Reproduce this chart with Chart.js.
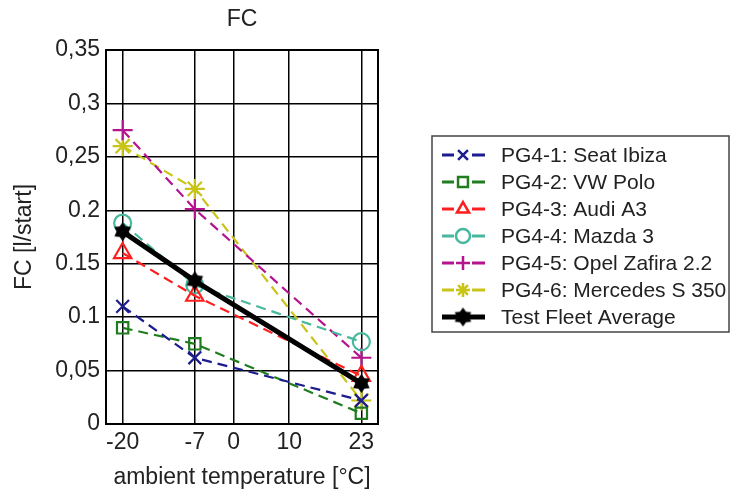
<!DOCTYPE html>
<html>
<head>
<meta charset="utf-8">
<script src="https://cdn.jsdelivr.net/npm/chart.js@4/dist/chart.umd.min.js"></script>
<style>
  html, body { margin: 0; padding: 0; background: #fff; }
  #chart { display: block; }
</style>
</head>
<body>
<canvas id="chart" width="731" height="491"></canvas>
<script>
// temperatures measured (x) and fuel consumption per start (y)
const temps = [-20, -7, 23];
const seatIbiza = [0.11, 0.062, 0.022];
const vwPolo = [0.09, 0.075, 0.01];
const audiA3 = [0.16, 0.12, 0.045];
const mazda3 = [0.188, 0.13, 0.077];
const opelZafira = [0.275, 0.201, 0.062];
const mercedes = [0.26, 0.22, 0.022];
const fleetAverage = [0.18, 0.134, 0.038];

const seriesNames = [
    'PG4-1: Seat Ibiza',
    'PG4-2: VW Polo',
    'PG4-3: Audi A3',
    'PG4-4: Mazda 3',
    'PG4-5: Opel Zafira 2.2',
    'PG4-6: Mercedes S 350',
    'Test Fleet Average'
];

const xTicks = [-20, -7, 0, 10, 23];
const yTicks = [0, 0.05, 0.1, 0.15, 0.2, 0.25, 0.3, 0.35];
const yTickLabels = ['0', '0,05', '0.1', '0.15', '0.2', '0,25', '0,3', '0,35'];

const FONT = 'Liberation Sans, Arial, sans-serif';

// filled six point star for the average marker
function makeStar(size) {
    const c = document.createElement('canvas');
    c.width = size;
    c.height = size;
    const g = c.getContext('2d');
    const r = size / 2 - 1;
    g.translate(size / 2, size / 2);
    g.beginPath();
    for (let i = 0; i < 12; i++) {
        const a = -Math.PI / 2 + i * Math.PI / 6;
        const rr = i % 2 === 0 ? r : r * 0.65;
        g.lineTo(Math.cos(a) * rr, Math.sin(a) * rr);
    }
    g.closePath();
    g.fillStyle = '#000';
    g.fill();
    return c;
}
const starImg = makeStar(21);

function pts(values) {
    return values.map((v, i) => ({ x: temps[i], y: v }));
}

function dashed(label, values, color, style, radius) {
    return {
        label: label,
        data: pts(values),
        borderColor: color,
        backgroundColor: 'rgba(0,0,0,0)',
        borderWidth: 2.2,
        borderDash: [10, 6],
        pointStyle: style,
        pointRadius: radius,
        pointBorderColor: color,
        pointBackgroundColor: 'rgba(0,0,0,0)',
        pointBorderWidth: 2.2,
        order: 1
    };
}

const datasets = [
    dashed(seriesNames[0], seatIbiza, '#1c1c8f', 'crossRot', 9),
    dashed(seriesNames[1], vwPolo, '#1f7d1f', 'rect', 8),
    dashed(seriesNames[2], audiA3, '#ff1e1e', 'triangle', 10),
    dashed(seriesNames[3], mazda3, '#48b89c', 'circle', 8.5),
    dashed(seriesNames[4], opelZafira, '#b4148e', 'cross', 10),
    dashed(seriesNames[5], mercedes, '#c8c418', 'star', 10),
    {
        label: seriesNames[6],
        data: pts(fleetAverage),
        borderColor: '#000',
        backgroundColor: '#000',
        borderWidth: 5,
        pointStyle: starImg,
        pointRadius: 10,
        order: 0
    }
];

// draws the title, plot frame and the legend box
const extras = {
    id: 'extras',
    afterDraw(chart) {
        const ctx = chart.ctx;
        const a = chart.chartArea;
        ctx.save();
        ctx.strokeStyle = '#000';
        ctx.lineWidth = 2;
        ctx.strokeRect(a.left, a.top, a.right - a.left, a.bottom - a.top);

        ctx.fillStyle = '#222';
        ctx.font = '23px ' + FONT;
        ctx.textAlign = 'center';
        ctx.textBaseline = 'middle';
        ctx.fillText('FC', (a.left + a.right) / 2, 20);

        // legend
        ctx.strokeStyle = '#444';
        ctx.lineWidth = 1.5;
        ctx.strokeRect(432, 136, 297, 196);
        ctx.font = '21px ' + FONT;
        ctx.textAlign = 'left';
        datasets.forEach((ds, i) => {
            const y = 155 + i * 27;
            ctx.strokeStyle = ds.borderColor;
            ctx.fillStyle = ds.pointBackgroundColor || ds.backgroundColor;
            ctx.lineWidth = ds.borderDash ? 3 : ds.borderWidth;
            ctx.beginPath();
            if (ds.borderDash) {
                ctx.moveTo(442, y); ctx.lineTo(454, y);
                ctx.moveTo(472, y); ctx.lineTo(485, y);
            } else {
                ctx.moveTo(442, y); ctx.lineTo(485, y);
            }
            ctx.stroke();
            ctx.lineWidth = 2.5;
            Chart.helpers.drawPoint(ctx, {
                pointStyle: ds.pointStyle,
                radius: ds.pointStyle === starImg ? 10 : 7,
                rotation: 0,
                borderWidth: 2.5
            }, 463, y);
            ctx.fillStyle = '#222';
            ctx.fillText(ds.label, 501, y + 1);
        });
        ctx.restore();
    }
};

new Chart(document.getElementById('chart'), {
    type: 'line',
    data: { datasets: datasets },
    options: {
        responsive: false,
        animation: false,
        layout: { padding: { top: 50, right: 353, left: 0, bottom: 0 } },
        plugins: {
            legend: { display: false },
            title: { display: false },
            tooltip: { enabled: false }
        },
        scales: {
            x: {
                type: 'linear',
                min: -23,
                max: 26,
                afterFit(scale) { scale.height = 67; },
                afterBuildTicks(scale) { scale.ticks = xTicks.map(v => ({ value: v })); },
                grid: { color: '#000', lineWidth: 1.5, drawTicks: false },
                border: { color: '#000', width: 2 },
                ticks: {
                    color: '#222',
                    font: { family: FONT, size: 23 },
                    padding: 5,
                    maxRotation: 0,
                    autoSkip: false
                },
                title: {
                    display: true,
                    text: 'ambient temperature [°C]',
                    color: '#222',
                    font: { family: FONT, size: 23 },
                    padding: { top: 0, bottom: 0 }
                }
            },
            y: {
                type: 'linear',
                min: 0,
                max: 0.35,
                afterFit(scale) { scale.width = 106; },
                afterBuildTicks(scale) { scale.ticks = yTicks.map(v => ({ value: v })); },
                grid: { color: '#000', lineWidth: 1.5, drawTicks: false },
                border: { color: '#000', width: 2 },
                ticks: {
                    color: '#222',
                    font: { family: FONT, size: 23 },
                    padding: 6,
                    autoSkip: false,
                    callback: (v, i) => yTickLabels[i]
                },
                title: {
                    display: true,
                    text: 'FC [l/start]',
                    color: '#222',
                    font: { family: FONT, size: 23 },
                    padding: { top: 11, bottom: 0 }
                }
            }
        }
    },
    plugins: [extras]
});
</script>
</body>
</html>
